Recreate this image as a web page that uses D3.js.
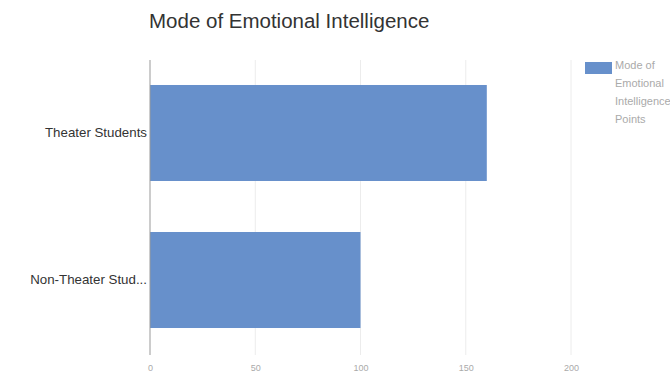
<!DOCTYPE html>
<html><head><meta charset="utf-8">
<script src="https://cdn.jsdelivr.net/npm/d3@7"></script>
<style>body{margin:0;background:#fff;overflow:hidden}svg{display:block;font-family:"Liberation Sans",Arial,sans-serif}</style>
</head><body><svg id="c" width="670" height="379"></svg>
<script>
const categories = ["Theater Students", "Non-Theater Stud..."];
const values = [160, 100];
const tickValues = [0, 50, 100, 150, 200];
const legendLines = ["Mode of", "Emotional", "Intelligence", "Points"];
const title = "Mode of Emotional Intelligence";

const svg = d3.select("#c");
const m = {left:150, right:99, top:60, bottom:26};
const W = 670, H = 379;
const x = d3.scaleLinear().domain([0,200]).range([m.left, W - m.right]);
const y = d3.scaleBand().domain(categories).range([m.top, H - m.bottom]).paddingInner(0.347).paddingOuter(0.17);

// gridlines
svg.append("g").selectAll("line").data(tickValues.slice(1)).join("line")
  .attr("x1", d=>x(d)).attr("x2", d=>x(d))
  .attr("y1", m.top).attr("y2", H - m.bottom + 2)
  .attr("stroke", "#ececec").attr("stroke-width", 1);

// bars
svg.append("g").selectAll("rect").data(values).join("rect")
  .attr("x", x(0)).attr("y", (d,i)=>y(categories[i]))
  .attr("width", d=>x(d)-x(0)).attr("height", y.bandwidth())
  .attr("fill", "#6790cb");

// baseline axis
svg.append("line").attr("x1", x(0)).attr("x2", x(0)).attr("y1", m.top).attr("y2", H - m.bottom + 2)
  .attr("stroke", "#999").attr("stroke-width", 1);

// x tick labels
const xa = d3.axisBottom(x).tickValues(tickValues).tickSize(0).tickFormat(d3.format("d"));
const gx = svg.append("g").attr("transform", `translate(0,${H - m.bottom + 9})`).call(xa);
gx.select(".domain").remove();
gx.selectAll("text").attr("fill", "#aaa").attr("font-size", 9).attr("font-family", "Liberation Sans, Arial, sans-serif");

// y labels
const ya = d3.axisLeft(y).tickSize(0).tickPadding(3);
const gy = svg.append("g").attr("transform", `translate(${m.left},0)`).call(ya);
gy.select(".domain").remove();
gy.selectAll("text").attr("fill", "#333").attr("font-size", 13.3).attr("font-family", "Liberation Sans, Arial, sans-serif");

// title
svg.append("text").attr("x", 149).attr("y", 28).text(title)
  .attr("font-size", 20.5).attr("fill", "#333");

// legend
const lg = svg.append("g");
lg.append("rect").attr("x", 585).attr("y", 62).attr("width", 27).attr("height", 12).attr("fill", "#6790cb");
lg.selectAll("text").data(legendLines).join("text")
  .attr("x", 615).attr("y", (d,i)=>69 + i*18).text(d=>d)
  .attr("font-size", 11).attr("fill", "#aaa");
</script></body></html>
